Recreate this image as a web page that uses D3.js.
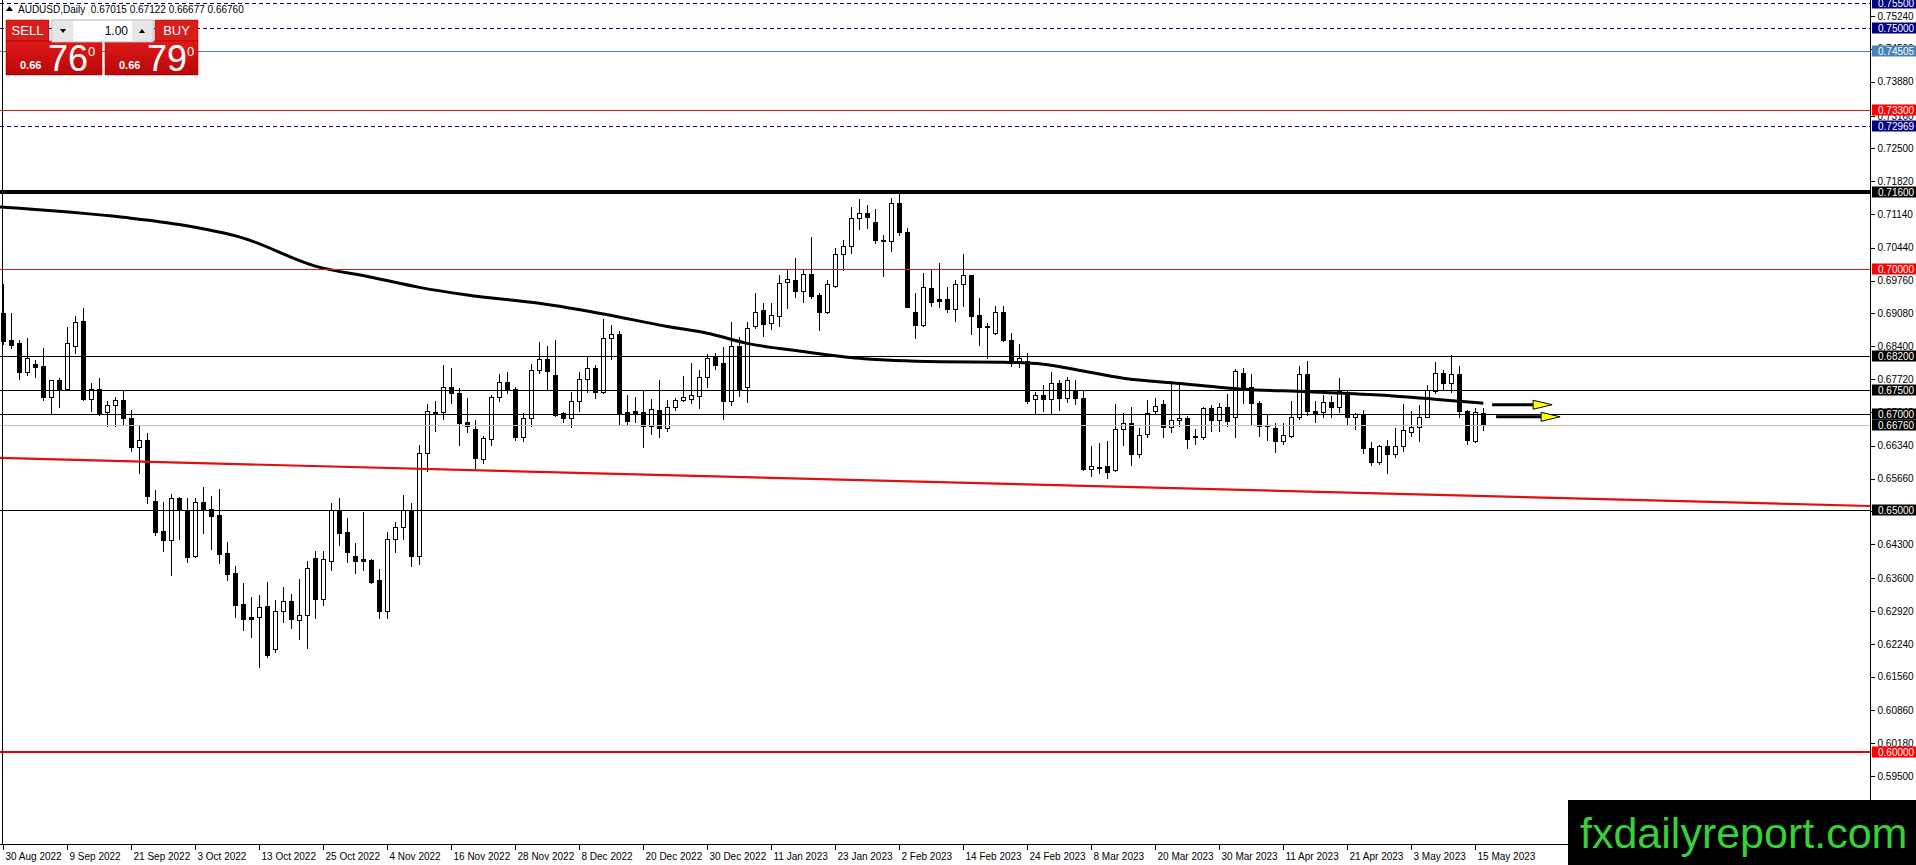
<!DOCTYPE html>
<html>
<head>
<meta charset="utf-8">
<script src="https://cdn.jsdelivr.net/npm/d3@7"></script>
<style>
  body { margin: 0; background: #fff; overflow: hidden; }
  svg { display: block; }
  text { font-family: "Liberation Sans", Arial, sans-serif; }
</style>
</head>
<body>
<div id="chart"></div>
<script>
/*
------------------------------
DATA: daily AUDUSD candles (bar 0 = 30 Aug 2022)
------------------------------
*/
const dateLabels = ["30 Aug 2022", "9 Sep 2022", "21 Sep 2022", "3 Oct 2022", "13 Oct 2022", "25 Oct 2022",
  "4 Nov 2022", "16 Nov 2022", "28 Nov 2022", "8 Dec 2022", "20 Dec 2022", "30 Dec 2022",
  "11 Jan 2023", "23 Jan 2023", "2 Feb 2023", "14 Feb 2023", "24 Feb 2023", "8 Mar 2023",
  "20 Mar 2023", "30 Mar 2023", "11 Apr 2023", "21 Apr 2023", "3 May 2023", "15 May 2023"];
const barsPerLabel = 8;

const open = [0.6908,0.6854,0.6846,0.6787,0.6803,0.6799,0.6736,0.6770,0.6751,0.6840,
  0.6892,0.6730,0.6751,0.6703,0.6719,0.6729,0.6691,0.6631,0.6646,0.6520,
  0.6458,0.6438,0.6525,0.6502,0.6406,0.6517,0.6504,0.6490,0.6411,0.6370,
  0.6306,0.6279,0.6279,0.6302,0.6213,0.6291,0.6313,0.6273,0.6284,0.6401,
  0.6316,0.6396,0.6501,0.6455,0.6406,0.6399,0.6398,0.6356,0.6291,0.6440,
  0.6465,0.6500,0.6405,0.6620,0.6704,0.6703,0.6755,0.6743,0.6683,0.6668,
  0.6606,0.6649,0.6734,0.6767,0.6751,0.6653,0.6691,0.6790,0.6813,0.6781,
  0.6701,0.6691,0.6727,0.6772,0.6794,0.6746,0.6857,0.6865,0.6703,0.6706,
  0.6703,0.6675,0.6708,0.6670,0.6715,0.6728,0.6731,0.6737,0.6777,0.6819,
  0.6806,0.6727,0.6841,0.6755,0.6881,0.6915,0.6888,0.6903,0.6974,0.6977,
  0.6955,0.6990,0.6946,0.6910,0.6965,0.7031,0.7048,0.7105,0.7115,0.7098,
  0.7061,0.7057,0.7137,0.7077,0.6910,0.6884,0.6960,0.6937,0.6937,0.6917,
  0.6969,0.6987,0.6905,0.6883,0.6868,0.6910,0.6852,0.6810,0.6810,0.6730,
  0.6739,0.6730,0.6763,0.6732,0.6749,0.6732,0.6585,0.6591,0.6592,0.6584,
  0.6668,0.6682,0.6617,0.6659,0.6707,0.6720,0.6672,0.6687,0.6691,0.6654,
  0.6652,0.6712,0.6687,0.6714,0.6693,0.6785,0.6755,0.6722,0.6676,0.6670,
  0.6643,0.6654,0.6693,0.6783,0.6705,0.6703,0.6725,0.6715,0.6746,0.6693,
  0.6698,0.6629,0.6601,0.6634,0.6617,0.6634,0.6663,0.6672,0.6694,0.6748,
  0.6785,0.6763,0.6783,0.6707,0.6643,0.67015];
const high = [0.6969,0.6908,0.6854,0.6858,0.6811,0.6836,0.6771,0.6775,0.6880,0.6903,
  0.6919,0.6763,0.6774,0.6727,0.6736,0.6750,0.6708,0.6674,0.6660,0.6542,
  0.6518,0.6534,0.6527,0.6525,0.6525,0.6549,0.6529,0.6544,0.6435,0.6385,
  0.6349,0.6320,0.6325,0.6351,0.6315,0.6342,0.6328,0.6359,0.6396,0.6417,
  0.6417,0.6516,0.6525,0.6484,0.6432,0.6496,0.6400,0.6378,0.6455,0.6476,
  0.6532,0.6515,0.6636,0.6721,0.6727,0.6801,0.6796,0.6753,0.6732,0.6688,
  0.6654,0.6739,0.6783,0.6786,0.6755,0.6701,0.6803,0.6848,0.6841,0.6854,
  0.6703,0.6746,0.6786,0.6818,0.6801,0.6896,0.6884,0.6872,0.6739,0.6734,
  0.6748,0.6730,0.6770,0.6729,0.6732,0.6779,0.6806,0.6790,0.6824,0.6827,
  0.6839,0.6891,0.6860,0.6891,0.6951,0.6929,0.6929,0.6988,0.6998,0.7022,
  0.6998,0.7066,0.6951,0.6977,0.7043,0.7060,0.7128,0.7144,0.7133,0.7124,
  0.7071,0.7146,0.7157,0.7084,0.6951,0.6991,0.6998,0.7013,0.6962,0.6977,
  0.7031,0.6988,0.6939,0.6889,0.6923,0.6923,0.6867,0.6845,0.6827,0.6746,
  0.6760,0.6786,0.6770,0.6776,0.6770,0.6749,0.6634,0.6639,0.6643,0.6721,
  0.6701,0.6714,0.6670,0.6729,0.6732,0.6729,0.6762,0.6762,0.6696,0.6668,
  0.6714,0.6719,0.6723,0.6741,0.6792,0.6796,0.6783,0.6727,0.6698,0.6681,
  0.6682,0.6727,0.6799,0.6810,0.6727,0.6739,0.6737,0.6774,0.6748,0.6701,
  0.6709,0.6641,0.6636,0.6646,0.6670,0.6721,0.6707,0.6719,0.6760,0.6808,
  0.6791,0.6822,0.6799,0.6708,0.6712,0.67122];
const low = [0.6845,0.6836,0.6772,0.6780,0.6776,0.6729,0.6702,0.6715,0.6749,0.6827,
  0.6729,0.6707,0.6698,0.6674,0.6675,0.6679,0.6624,0.6577,0.6515,0.6450,
  0.6417,0.6367,0.6440,0.6394,0.6404,0.6453,0.6420,0.6392,0.6356,0.6279,
  0.6253,0.6239,0.6175,0.6197,0.6208,0.6270,0.6256,0.6233,0.6215,0.6277,
  0.6304,0.6377,0.6429,0.6394,0.6371,0.6377,0.6349,0.6277,0.6278,0.6415,
  0.6440,0.6385,0.6390,0.6581,0.6665,0.6689,0.6722,0.6636,0.6663,0.6587,
  0.6599,0.6636,0.6727,0.6743,0.6645,0.6643,0.6674,0.6784,0.6750,0.6696,
  0.6684,0.6672,0.6705,0.6746,0.6732,0.6743,0.6813,0.6679,0.6677,0.6684,
  0.6632,0.6658,0.6653,0.6665,0.6708,0.6726,0.6722,0.6712,0.6756,0.6792,
  0.6689,0.6718,0.6737,0.6725,0.6877,0.6861,0.6875,0.6881,0.6919,0.6943,
  0.6932,0.6939,0.6874,0.6908,0.6962,0.6998,0.7034,0.7082,0.7084,0.7053,
  0.6986,0.7038,0.7070,0.6921,0.6858,0.6881,0.6923,0.6922,0.6912,0.6893,
  0.6923,0.6865,0.6843,0.6815,0.6865,0.6850,0.6799,0.6798,0.6723,0.6702,
  0.6707,0.6700,0.6709,0.6725,0.6721,0.6584,0.6571,0.6578,0.6567,0.6582,
  0.6636,0.6594,0.6610,0.6652,0.6700,0.6653,0.6663,0.6674,0.6629,0.6638,
  0.6647,0.6665,0.6665,0.6674,0.6653,0.6723,0.6679,0.6654,0.6645,0.6622,
  0.6638,0.6653,0.6689,0.6698,0.6684,0.6693,0.6693,0.6703,0.6679,0.6668,
  0.6620,0.6594,0.6596,0.6577,0.6611,0.6624,0.6654,0.6643,0.6693,0.6744,
  0.6751,0.6746,0.6693,0.6638,0.6641,0.66677];
const close = [0.6850,0.6843,0.6787,0.6815,0.6798,0.6736,0.6771,0.6751,0.6846,0.6891,
  0.6730,0.6751,0.6701,0.6718,0.6729,0.6691,0.6632,0.6646,0.6529,0.6456,
  0.6438,0.6525,0.6501,0.6404,0.6517,0.6502,0.6489,0.6410,0.6368,0.6304,
  0.6275,0.6276,0.6301,0.6201,0.6291,0.6313,0.6275,0.6284,0.6380,0.6316,
  0.6399,0.6500,0.6454,0.6415,0.6396,0.6396,0.6353,0.6291,0.6440,0.6465,
  0.6500,0.6405,0.6620,0.6705,0.6702,0.6755,0.6743,0.6682,0.6674,0.6608,
  0.6651,0.6734,0.6767,0.6751,0.6653,0.6691,0.6790,0.6813,0.6788,0.6698,
  0.6691,0.6727,0.6772,0.6794,0.6746,0.6857,0.6865,0.6701,0.6686,0.6701,
  0.6675,0.6710,0.6670,0.6715,0.6729,0.6735,0.6739,0.6777,0.6815,0.6801,
  0.6727,0.6841,0.6751,0.6877,0.6912,0.6886,0.6905,0.6972,0.6979,0.6955,
  0.6990,0.6944,0.6912,0.6969,0.7031,0.7048,0.7105,0.7115,0.7107,0.7061,
  0.7057,0.7137,0.7077,0.6922,0.6884,0.6962,0.6932,0.6933,0.6917,0.6969,
  0.6987,0.6903,0.6879,0.6879,0.6910,0.6852,0.6806,0.6815,0.6727,0.6739,
  0.6730,0.6763,0.6732,0.6770,0.6732,0.6585,0.6592,0.6590,0.6580,0.6668,
  0.6682,0.6617,0.6656,0.6701,0.6716,0.6672,0.6687,0.6692,0.6647,0.6652,
  0.6712,0.6687,0.6714,0.6686,0.6789,0.6751,0.6722,0.6674,0.6674,0.6643,
  0.6656,0.6693,0.6783,0.6705,0.6701,0.6725,0.6715,0.6748,0.6693,0.6700,
  0.6629,0.6601,0.6634,0.6618,0.6634,0.6667,0.6672,0.6694,0.6750,0.6785,
  0.6763,0.6783,0.6705,0.6645,0.6703,0.66760];

// moving average, read at a few bars
const maBars = [-1, 15, 22, 30, 39, 46, 52, 58, 67, 75, 83, 88, 93, 100, 107, 117, 125, 130, 134, 140, 147, 155, 163, 172, 180, 185];
const maValues = [0.7129, 0.7107, 0.7092, 0.7064, 0.7006, 0.6983, 0.6962, 0.6946, 0.6929, 0.6907, 0.6881, 0.6867, 0.6846,
  0.6829, 0.6815, 0.6808, 0.6807, 0.6803, 0.6792, 0.6774, 0.6763, 0.6751, 0.6746, 0.6739, 0.6729, 0.6722];

// red trend line (two anchors)
const trendBars = [-1, 234];
const trendPrices = [0.6609, 0.6509];

// horizontal levels
const levelPrices = [0.755, 0.75, 0.74505, 0.733, 0.72969, 0.716, 0.70, 0.682, 0.675, 0.67, 0.6676, 0.65, 0.60];

// price scale ticks
const axisTicks = [0.75240, 0.74560, 0.73880, 0.73160, 0.72500, 0.71820, 0.71140, 0.70440, 0.69760, 0.69080,
  0.68400, 0.67720, 0.67040, 0.66340, 0.65660, 0.64980, 0.64300, 0.63600, 0.62920, 0.62240,
  0.61560, 0.60860, 0.60180, 0.59500];

// yellow arrows
const arrowPrices = [0.6719, 0.6694];
const arrowFrom = [186.1, 186.6];
const arrowTo = [193.6, 194.6];

const headerText = "AUDUSD,Daily  0.67015 0.67122 0.66677 0.66760";
const lotText = "1.00";
const sellQuote = ["0.66", "76", "0"];
const buyQuote = ["0.66", "79", "0"];
const watermark = "fxdailyreport.com";

/*
------------------------------
METHOD: set the size of the canvas and the scales
------------------------------
*/
const W = 1916, H = 865;
const plotRight = 1870, plotBottom = 844;

const x = d3.scaleLinear().domain([0, 1]).range([3.3, 11.3]);
const y = d3.scaleLinear().domain([0.75, 0.60]).range([27.5, 752]);

const svg = d3.select("#chart").append("svg")
  .attr("width", W)
  .attr("height", H);

svg.append("defs").append("clipPath").attr("id", "plot")
  .append("rect").attr("x", 0).attr("y", 0).attr("width", plotRight).attr("height", plotBottom);

const plot = svg.append("g").attr("clip-path", "url(#plot)");

/*
------------------------------
METHOD: candles
------------------------------
*/
const bars = d3.range(open.length);
const px = i => Math.round(x(i)) + 0.5;

plot.append("g").selectAll("line")
  .data(bars)
  .join("line")
  .attr("x1", px).attr("x2", px)
  .attr("y1", i => Math.round(y(high[i])))
  .attr("y2", i => Math.round(y(low[i])) + 1)
  .attr("stroke", "#000")
  .attr("stroke-width", 1)
  .attr("shape-rendering", "crispEdges");

plot.append("g").selectAll("rect")
  .data(bars)
  .join("rect")
  .attr("x", i => px(i) - 2)
  .attr("width", 4)
  .attr("y", i => Math.round(y(Math.max(open[i], close[i]))) + 0.5)
  .attr("height", i => Math.max(1, Math.round(y(Math.min(open[i], close[i]))) - Math.round(y(Math.max(open[i], close[i])))))
  .attr("fill", i => close[i] > open[i] ? "#fff" : "#000")
  .attr("stroke", "#000")
  .attr("stroke-width", 1)
  .attr("shape-rendering", "crispEdges");

/*
------------------------------
METHOD: moving average and trend line
------------------------------
*/
const maLine = d3.line()
  .x(d => x(d[0]))
  .y(d => y(d[1]))
  .curve(d3.curveMonotoneX);

plot.append("path")
  .datum(maBars.map((b, i) => [b, maValues[i]]))
  .attr("d", maLine)
  .attr("fill", "none")
  .attr("stroke", "#000")
  .attr("stroke-width", 3);

/*
------------------------------
METHOD: horizontal levels
------------------------------
*/
const levelStyle = {
  "0.755":   { color: "#000080", width: 1, dash: "4,3", box: "#000080" },
  "0.75":    { color: "#000080", width: 1, dash: "4,3", box: "#000080" },
  "0.74505": { color: "#4682b4", width: 1, dash: null,  box: "#4682b4" },
  "0.733":   { color: "#d41a1a", width: 1, dash: null,  box: "#ff0000" },
  "0.72969": { color: "#000080", width: 1, dash: "4,3", box: "#000080" },
  "0.716":   { color: "#000", width: 4, dash: null, box: "#000" },
  "0.7":     { color: "#d41a1a", width: 1, dash: null, box: "#ff0000" },
  "0.682":   { color: "#000", width: 1, dash: null, box: "#000" },
  "0.675":   { color: "#000", width: 1, dash: null, box: "#000" },
  "0.67":    { color: "#000", width: 1, dash: null, box: "#000" },
  "0.6676":  { color: "#c0c0c0", width: 1, dash: null, box: "#000" },
  "0.65":    { color: "#000", width: 1, dash: null, box: "#000" },
  "0.6":     { color: "#ee0000", width: 2, dash: null, box: "#ff0000" }
};
const styleOf = p => levelStyle[String(p)];

plot.append("g").selectAll("line")
  .data(levelPrices)
  .join("line")
  .attr("x1", 0).attr("x2", plotRight)
  .attr("y1", p => Math.round(y(p)) + (styleOf(p).width % 2 ? 0.5 : 0))
  .attr("y2", p => Math.round(y(p)) + (styleOf(p).width % 2 ? 0.5 : 0))
  .attr("stroke", p => styleOf(p).color)
  .attr("stroke-width", p => styleOf(p).width)
  .attr("stroke-dasharray", p => styleOf(p).dash)
  .attr("shape-rendering", "crispEdges");

plot.append("line")
  .attr("x1", x(trendBars[0])).attr("y1", y(trendPrices[0]))
  .attr("x2", x(trendBars[1])).attr("y2", y(trendPrices[1]))
  .attr("stroke", "#e01010")
  .attr("stroke-width", 2.2);

/*
------------------------------
METHOD: yellow arrows
------------------------------
*/
const arrows = plot.append("g").selectAll("g")
  .data(arrowPrices)
  .join("g");

arrows.append("line")
  .attr("x1", (p, i) => x(arrowFrom[i]))
  .attr("x2", (p, i) => x(arrowTo[i]) - 18)
  .attr("y1", p => y(p)).attr("y2", p => y(p))
  .attr("stroke", "#000")
  .attr("stroke-width", 3);

arrows.append("path")
  .attr("d", (p, i) => {
    const tip = x(arrowTo[i]), yy = y(p);
    return `M${tip - 19},${yy - 4.5}L${tip},${yy}L${tip - 19},${yy + 4.5}Z`;
  })
  .attr("fill", "#ffff00")
  .attr("stroke", "#000")
  .attr("stroke-width", 1);

/*
------------------------------
METHOD: frame and axes
------------------------------
*/
svg.append("g").attr("shape-rendering", "crispEdges")
  .selectAll("line")
  .data([[2.5, 0, 2.5, plotBottom], [0, plotBottom + 0.5, plotRight, plotBottom + 0.5], [plotRight + 0.5, 0, plotRight + 0.5, plotBottom + 0.5]])
  .join("line")
  .attr("x1", d => d[0]).attr("y1", d => d[1]).attr("x2", d => d[2]).attr("y2", d => d[3])
  .attr("stroke", "#000");

const yAxis = svg.append("g")
  .attr("transform", `translate(${plotRight + 0.5},0)`)
  .call(d3.axisRight(y).tickValues(axisTicks).tickSize(4).tickPadding(3).tickFormat(d3.format(".5f")));
yAxis.select(".domain").remove();
yAxis.selectAll("text").attr("font-family", "Liberation Sans, Arial, sans-serif").attr("font-size", 10).attr("fill", "#000");
yAxis.selectAll("line").attr("shape-rendering", "crispEdges");

const labelBars = dateLabels.map((d, i) => i * barsPerLabel);
const xAxis = svg.append("g")
  .attr("transform", `translate(0,${plotBottom + 0.5})`)
  .call(d3.axisBottom(x).tickValues(labelBars).tickSize(5).tickPadding(3).tickFormat((d, i) => dateLabels[i]));
xAxis.select(".domain").remove();
xAxis.selectAll(".tick").attr("transform", d => `translate(${px(d)},0)`);
xAxis.selectAll("text").attr("text-anchor", "start").attr("dx", 2)
  .attr("font-family", "Liberation Sans, Arial, sans-serif").attr("font-size", 10).attr("fill", "#000");
xAxis.selectAll("line").attr("shape-rendering", "crispEdges");

// coloured price boxes on the scale
const boxes = svg.append("g").selectAll("g")
  .data(levelPrices)
  .join("g")
  .attr("transform", p => `translate(${plotRight + 2},${Math.round(y(p))})`);
boxes.append("rect")
  .attr("x", 0).attr("y", -5.5).attr("width", 44).attr("height", 11)
  .attr("fill", p => styleOf(p).box);
boxes.append("text")
  .attr("x", 6).attr("y", 4)
  .attr("font-size", 10).attr("fill", "#fff")
  .text(p => d3.format(".5f")(p));

/*
------------------------------
METHOD: header and one-click trading panel
------------------------------
*/
svg.append("path").attr("d", "M6,11L9.5,6L13,11Z").attr("fill", "#000");
svg.append("text").attr("x", 18).attr("y", 13).attr("font-size", 10).attr("fill", "#000")
  .attr("xml:space", "preserve").style("white-space", "pre").text(headerText);

const grad = svg.select("defs").append("linearGradient").attr("id", "redBox").attr("x1", 0).attr("y1", 0).attr("x2", 0).attr("y2", 1);
grad.append("stop").attr("offset", "0%").attr("stop-color", "#e01818");
grad.append("stop").attr("offset", "100%").attr("stop-color", "#b80808");

const panel = svg.append("g");
[[6, "SELL", sellQuote], [105, "BUY", buyQuote]].forEach(([bx, label, quote], k) => {
  const topX = k === 0 ? 6 : 155;
  panel.append("rect").attr("x", topX).attr("y", 20).attr("width", 43).attr("height", 21)
    .attr("fill", "#d91e1e").attr("stroke", "#a00").attr("stroke-width", 0.5);
  panel.append("text").attr("x", topX + 21.5).attr("y", 35).attr("text-anchor", "middle")
    .attr("font-size", 13).attr("fill", "#fff").text(label);
  panel.append("rect").attr("x", bx).attr("y", 41).attr("width", k === 0 ? 96 : 93).attr("height", 34)
    .attr("fill", "url(#redBox)").attr("stroke", "#900").attr("stroke-width", 0.5);
  panel.append("text").attr("x", bx + 14).attr("y", 69).attr("font-size", 11).attr("font-weight", "bold")
    .attr("fill", "#fff").text(quote[0]);
  panel.append("text").attr("x", bx + 42).attr("y", 71).attr("font-size", 36)
    .attr("fill", "#fff").text(quote[1]);
  panel.append("text").attr("x", bx + 82).attr("y", 56).attr("font-size", 13)
    .attr("fill", "#fff").text(quote[2]);
});
panel.append("rect").attr("x", 52).attr("y", 20).attr("width", 101).attr("height", 22)
  .attr("fill", "#fff").attr("stroke", "#b0b0b0");
panel.append("rect").attr("x", 53).attr("y", 21).attr("width", 20).attr("height", 20).attr("fill", "#e6e6e6");
panel.append("rect").attr("x", 132).attr("y", 21).attr("width", 20).attr("height", 20).attr("fill", "#e6e6e6");
panel.append("path").attr("d", "M60,29L66,29L63,33Z").attr("fill", "#000");
panel.append("path").attr("d", "M139,33L145,33L142,29Z").attr("fill", "#000");
panel.append("text").attr("x", 128).attr("y", 35).attr("text-anchor", "end").attr("font-size", 12)
  .attr("fill", "#000").text(lotText);

/*
------------------------------
METHOD: watermark
------------------------------
*/
svg.append("rect").attr("x", 1568).attr("y", 800).attr("width", W - 1568).attr("height", H - 800).attr("fill", "#000");
svg.append("text").attr("x", 1580).attr("y", 848).attr("font-size", 43).attr("fill", "#38d038").text(watermark);
</script>
</body>
</html>
